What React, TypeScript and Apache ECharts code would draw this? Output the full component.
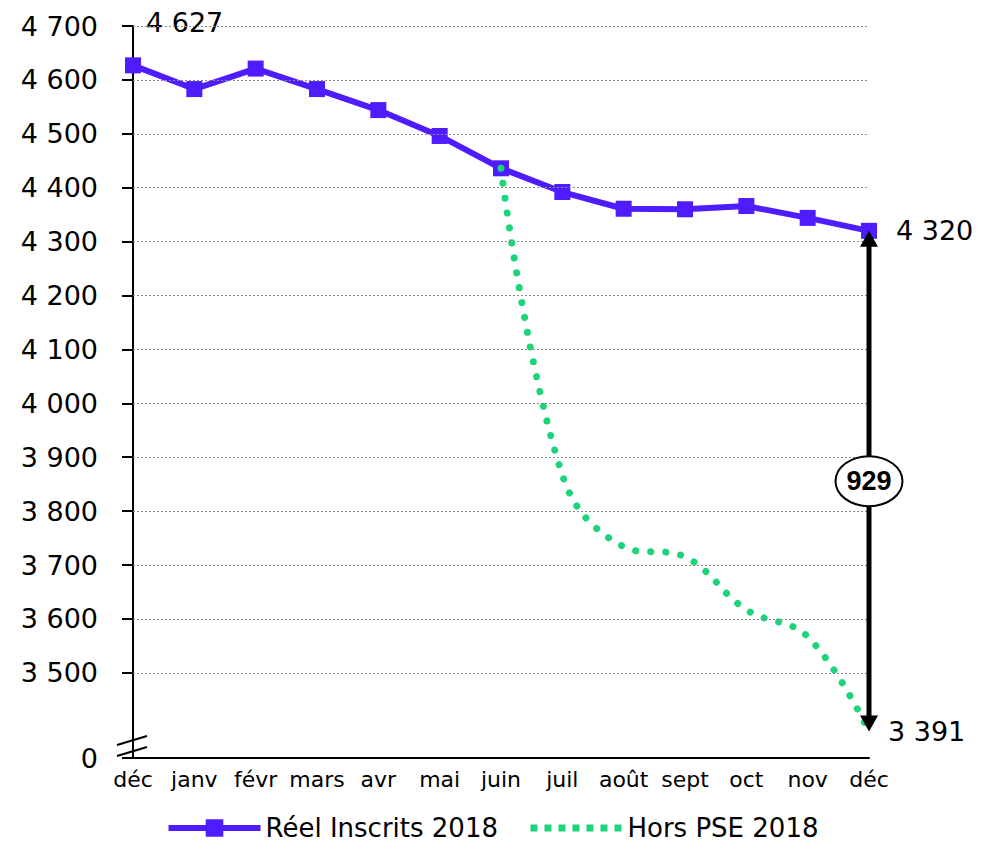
import React, { useEffect, useRef } from "react";
import * as echarts from "echarts";

const months = ["déc", "janv", "févr", "mars", "avr", "mai", "juin", "juil", "août", "sept", "oct", "nov", "déc"];
const reelInscrits = [4627, 4583, 4621, 4583, 4544, 4496, 4436, 4392, 4361, 4360, 4366, 4344, 4320];
const horsPSE: (number | string)[] = ["-", "-", "-", "-", "-", "-", 4436, 3867, 3734, 3715, 3617, 3567, 3391];
const yTickValues = [3500, 3600, 3700, 3800, 3900, 4000, 4100, 4200, 4300, 4400, 4500, 4600, 4700];
const yBreakValue = 3342; // where the broken axis shows "0"
const yMax = 4700;
const gapLabel = "929";
const seriesNames = ["Réel Inscrits 2018", "Hors PSE 2018"];

const BLUE = "#4f1bff";
const GREEN = "#1dd47b";
const FONT = "DejaVu Sans";

const fmt = (v: number) => {
  if (v <= yBreakValue) return "0";
  const t = Math.floor(v / 1000);
  const r = Math.round(v % 1000);
  return t > 0 ? `${t} ${String(r).padStart(3, "0")}` : String(r);
};

export default function App() {
  const ref = useRef<HTMLDivElement>(null);
  useEffect(() => {
    if (!ref.current) return;
    const chart = echarts.init(ref.current, undefined, { renderer: "svg" });
    const last = months.length - 1;
    chart.setOption({
      animation: false,
      textStyle: { fontFamily: FONT, color: "#000" },
      grid: { left: 133, right: 115, top: 26, bottom: 88, containLabel: false },
      legend: {
        data: [
          { name: seriesNames[0], lineStyle: { width: 6, color: BLUE }, itemStyle: { color: BLUE } },
          {
            name: seriesNames[1],
            lineStyle: { width: 7, color: GREEN, type: [7, 7], cap: "butt" },
            itemStyle: { color: "rgba(0,0,0,0)", opacity: 0 },
          },
        ],
        bottom: 0,
        left: "center",
        itemWidth: 92,
        itemHeight: 22,
        itemGap: 29,
        textStyle: { fontFamily: FONT, fontSize: 26, color: "#000" },
      },
      xAxis: {
        type: "category",
        data: months,
        boundaryGap: false,
        axisLine: { lineStyle: { color: "#000", width: 2 } },
        axisTick: { show: false },
        axisLabel: { color: "#000", fontSize: 22, margin: 10, fontFamily: FONT, interval: 0 },
        splitLine: { show: false },
      },
      yAxis: {
        type: "value",
        min: yBreakValue,
        max: yMax,
        axisLine: { show: true, lineStyle: { color: "#000", width: 2 } },
        axisTick: {
          show: true,
          length: 11,
          customValues: [yBreakValue, ...yTickValues],
          lineStyle: { color: "#000", width: 2 },
        },
        axisLabel: {
          customValues: [yBreakValue, ...yTickValues],
          formatter: (v: number) => fmt(v),
          color: "#000",
          fontSize: 27,
          margin: 35,
          fontFamily: FONT,
        },
        splitLine: { show: false },
      },
      series: [
        {
          name: "grid",
          type: "line",
          data: [],
          silent: true,
          z: 1,
          markLine: {
            silent: true,
            symbol: ["none", "none"],
            label: { show: false },
            lineStyle: { color: "#8a8a8a", width: 1, type: [2, 2] },
            data: yTickValues.map((v) => ({ yAxis: v })),
          },
        },
        {
          name: seriesNames[0],
          type: "line",
          z: 3,
          data: reelInscrits.map((v, i) =>
            i === 0
              ? {
                  value: v,
                  label: {
                    show: true,
                    position: "right",
                    distance: 5,
                    offset: [0, -43],
                    formatter: (p: any) => fmt(p.value),
                    fontSize: 27,
                    color: "#000",
                    fontFamily: FONT,
                  },
                }
              : v
          ),
          symbol: "rect",
          symbolSize: 16,
          lineStyle: { color: BLUE, width: 6 },
          itemStyle: { color: BLUE },
          endLabel: {
            show: true,
            distance: 27,
            formatter: (p: any) => fmt(p.value),
            fontSize: 27,
            color: "#000",
            fontFamily: FONT,
          },
        },
        {
          name: seriesNames[1],
          type: "line",
          z: 4,
          data: horsPSE,
          smooth: 0.4,
          symbol: "none",
          lineStyle: { color: GREEN, width: 7, type: [0.1, 15], cap: "round" },
          itemStyle: { color: GREEN },
          endLabel: {
            show: true,
            distance: 19,
            formatter: (p: any) => fmt(p.value),
            fontSize: 27,
            color: "#000",
            fontFamily: FONT,
          },
        },
      ],
    });

    // annotations computed via the chart's own scales
    const top = chart.convertToPixel({ gridIndex: 0 }, [last, reelInscrits[last]]) as number[];
    const bot = chart.convertToPixel({ gridIndex: 0 }, [last, horsPSE[last] as number]) as number[];
    const origin = chart.convertToPixel({ gridIndex: 0 }, [0, yBreakValue]) as number[];
    const ax = top[0];
    const head = 16;
    const hw = 9;
    const cy = (top[1] + bot[1]) / 2;
    chart.setOption({
      graphic: [
        {
          type: "line",
          z: 10,
          shape: { x1: ax, y1: top[1] + head - 1, x2: ax, y2: bot[1] - head + 1 },
          style: { stroke: "#000", lineWidth: 5 },
        },
        {
          type: "polygon",
          z: 10,
          shape: { points: [[ax, top[1]], [ax - hw, top[1] + head], [ax + hw, top[1] + head]] },
          style: { fill: "#000" },
        },
        {
          type: "polygon",
          z: 10,
          shape: { points: [[ax, bot[1]], [ax - hw, bot[1] - head], [ax + hw, bot[1] - head]] },
          style: { fill: "#000" },
        },
        {
          type: "ellipse",
          z: 11,
          shape: { cx: ax, cy, rx: 33.5, ry: 25 },
          style: { fill: "#fff", stroke: "#000", lineWidth: 2 },
        },
        {
          type: "text",
          z: 12,
          x: ax,
          y: cy,
          style: {
            text: gapLabel,
            align: "center",
            verticalAlign: "middle",
            fontSize: 27,
            fontWeight: "bold",
            fontFamily: "Liberation Sans",
            fill: "#000",
          },
        },
        {
          type: "line",
          z: 10,
          shape: { x1: origin[0] - 16, y1: origin[1] - 13, x2: origin[0] + 14, y2: origin[1] - 22 },
          style: { stroke: "#000", lineWidth: 2 },
        },
        {
          type: "line",
          z: 10,
          shape: { x1: origin[0] - 16, y1: origin[1] - 2, x2: origin[0] + 14, y2: origin[1] - 11 },
          style: { stroke: "#000", lineWidth: 2 },
        },
      ],
    });

    return () => chart.dispose();
  }, []);
  return (
    <div
      ref={ref}
      style={{ position: "fixed", left: 0, top: 0, width: 984, height: 846, background: "#fff" }}
    />
  );
}
